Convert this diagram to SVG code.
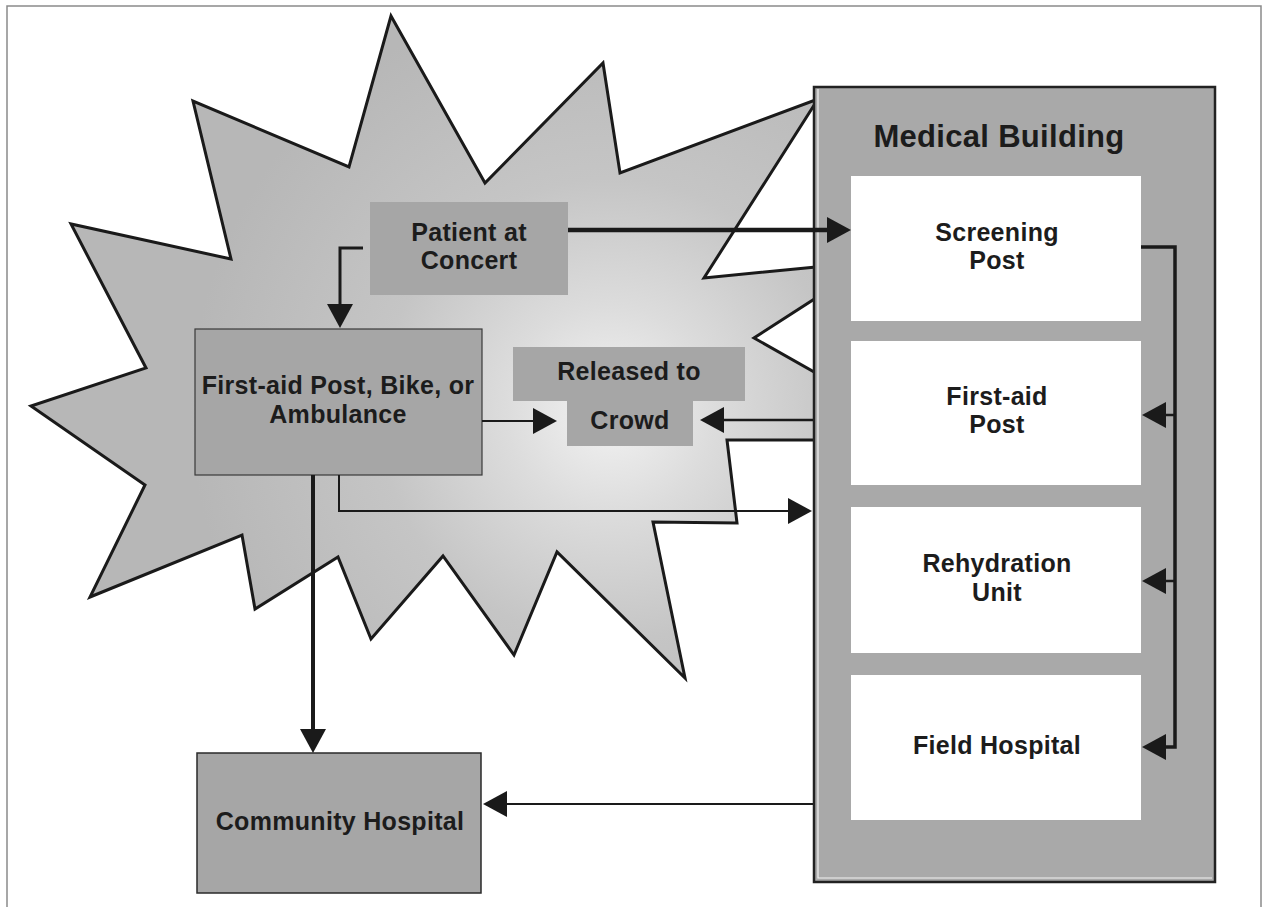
<svg xmlns="http://www.w3.org/2000/svg" width="1265" height="907" viewBox="0 0 1265 907">
<defs>
<radialGradient id="burst" gradientUnits="userSpaceOnUse" cx="610" cy="410" r="420">
<stop offset="0" stop-color="#f3f3f3"/>
<stop offset="0.25" stop-color="#dcdcdc"/>
<stop offset="0.55" stop-color="#c5c5c5"/>
<stop offset="1" stop-color="#b7b7b7"/>
</radialGradient>
<marker id="ah" markerUnits="userSpaceOnUse" markerWidth="26" markerHeight="28" refX="14" refY="13" orient="auto" viewBox="0 0 26 28">
<path d="M0,0 L24,13 L0,26 Z" fill="#1a1a1a"/>
</marker>
<style>
.t{font-family:"Liberation Sans",Arial,sans-serif;font-weight:bold;font-size:25px;fill:#1c1c1c;text-anchor:middle;letter-spacing:0.3px}
.box{fill:#a6a6a6}
.wbox{fill:#ffffff}
.c{fill:none;stroke:#1a1a1a;stroke-linejoin:miter}
</style>
</defs>
<rect x="0" y="0" width="1265" height="907" fill="#ffffff"/>
<path d="M7,907 V6 H1261 V907" fill="none" stroke="#8a8a8a" stroke-width="1.5"/>

<g id="starburst">
<polygon points="391,16 485,183 603,63 620,173 818,99 704,278 816,267 870,262 870,291 816,298 754,338 816,373 870,380 870,440 816,440 727,440 737,523 653,522 685,678 557,552 514,655 443,556 371,639 338,557 255,609 242,535 90,597 145,485 31,406 146,368 71,224 231,259 193,101 349,167" fill="url(#burst)" stroke="#1a1a1a" stroke-width="3" stroke-linejoin="miter"/>
</g>

<g id="patient">
<rect class="box" x="370" y="202" width="198" height="93"/>
<text class="t" x="469" y="241">Patient at</text>
<text class="t" x="469" y="269">Concert</text>
</g>

<g id="firstaid-post-bike">
<rect class="box" x="195" y="329" width="287" height="146" fill="#a3a3a3" stroke="#3a3a3a" stroke-width="1.2"/>
<text class="t" x="338" y="394">First-aid Post, Bike, or</text>
<text class="t" x="338" y="423">Ambulance</text>
</g>

<g id="released">
<rect class="box" x="513" y="347" width="232" height="54" fill="#aaaaaa"/>
<rect class="box" x="567" y="400" width="126" height="46" fill="#aaaaaa"/>
<text class="t" x="629" y="380">Released to</text>
<text class="t" x="630" y="429">Crowd</text>
</g>

<g id="community-hospital">
<rect class="box" x="197" y="753" width="284" height="140" stroke="#2a2a2a" stroke-width="1.5"/>
<text class="t" x="340" y="830">Community Hospital</text>
</g>

<g id="medical-building">
<rect x="814" y="87" width="401" height="795" fill="#a9a9a9" stroke="#222222" stroke-width="2.5"/>
<path d="M818,89 V878 H1212" fill="none" stroke="#f2f2f2" stroke-width="1.2"/>
<text class="t" x="999" y="147" style="font-size:31px">Medical Building</text>
</g>

<g id="screening-post">
<rect class="wbox" x="851" y="176" width="290" height="145"/>
<text class="t" x="997" y="241">Screening</text>
<text class="t" x="997" y="269">Post</text>
</g>

<g id="firstaid-post">
<rect class="wbox" x="851" y="341" width="290" height="144"/>
<text class="t" x="997" y="405">First-aid</text>
<text class="t" x="997" y="433">Post</text>
</g>

<g id="rehydration-unit">
<rect class="wbox" x="851" y="507" width="290" height="146"/>
<text class="t" x="997" y="572">Rehydration</text>
<text class="t" x="997" y="601">Unit</text>
</g>

<g id="field-hospital">
<rect class="wbox" x="851" y="675" width="290" height="145"/>
<text class="t" x="997" y="754">Field Hospital</text>
</g>

<g id="connectors">
<path class="c" d="M568,230 H841" stroke-width="4.5" marker-end="url(#ah)"/>
<path class="c" d="M363,248 H340 V318" stroke-width="3" marker-end="url(#ah)"/>
<path class="c" d="M482,421 H547" stroke-width="2" marker-end="url(#ah)"/>
<path class="c" d="M813,420 H710" stroke-width="2.5" marker-end="url(#ah)"/>
<path class="c" d="M339,475 V511 H802" stroke-width="2" marker-end="url(#ah)"/>
<path class="c" d="M313,475 V743" stroke-width="4" marker-end="url(#ah)"/>
<path class="c" d="M813,804 H493" stroke-width="2" marker-end="url(#ah)"/>
<path class="c" d="M1141,247 H1175 V747 H1152" stroke-width="3.5" marker-end="url(#ah)"/>
<path class="c" d="M1175,415 H1152" stroke-width="2.5" marker-end="url(#ah)"/>
<path class="c" d="M1175,581 H1152" stroke-width="2.5" marker-end="url(#ah)"/>
</g>
</svg>
